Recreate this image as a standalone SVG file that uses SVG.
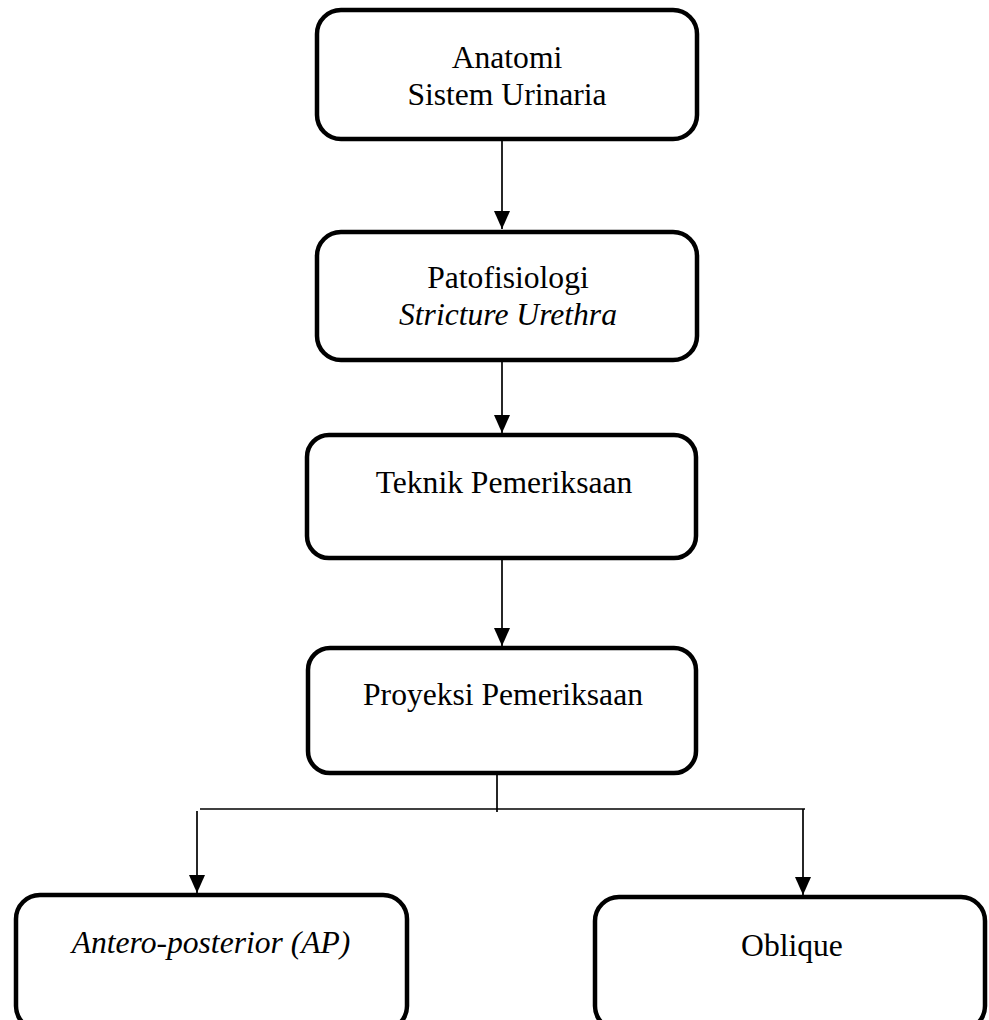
<svg xmlns="http://www.w3.org/2000/svg" width="989" height="1020" viewBox="0 0 989 1020">
<style>
.box{fill:#fff;stroke:#000;stroke-width:4.5}
.t{font-family:"Liberation Serif","Times New Roman",serif;font-size:31.6px;fill:#000;text-anchor:middle}
.i{font-style:italic}
.c{stroke:#000;stroke-width:1.7;fill:none}
</style>
<defs>
<marker id="ah" markerUnits="userSpaceOnUse" markerWidth="18" markerHeight="16" refX="18" refY="8" orient="auto" viewBox="0 0 18 16">
<path d="M0,0 L18,8 L0,16 Z" fill="#000"/>
</marker>
</defs>
<rect width="989" height="1020" fill="#fff"/>
<g id="connectors">
<line class="c" x1="502" y1="141" x2="502" y2="229" marker-end="url(#ah)"/>
<line class="c" x1="502" y1="362" x2="502" y2="433" marker-end="url(#ah)"/>
<line class="c" x1="502" y1="560" x2="502" y2="646" marker-end="url(#ah)"/>
<line class="c" x1="497" y1="771" x2="497" y2="812"/>
<line class="c" x1="200" y1="809" x2="805" y2="809"/>
<line class="c" x1="197" y1="811" x2="197" y2="893" marker-end="url(#ah)"/>
<line class="c" x1="803" y1="809" x2="803" y2="895" marker-end="url(#ah)"/>
</g>
<g id="n1">
<rect class="box" x="317" y="10" width="380" height="129" rx="24"/>
<text class="t" x="507" y="68">Anatomi</text>
<text class="t" x="507" y="105">Sistem Urinaria</text>
</g>
<g id="n2">
<rect class="box" x="317" y="232" width="380" height="128" rx="24"/>
<text class="t" x="508" y="288">Patofisiologi</text>
<text class="t i" x="508" y="325">Stricture Urethra</text>
</g>
<g id="n3">
<rect class="box" x="307" y="435" width="389" height="123" rx="22"/>
<text class="t" x="504" y="493">Teknik Pemeriksaan</text>
</g>
<g id="n4">
<rect class="box" x="308" y="648" width="388" height="125" rx="22"/>
<text class="t" x="503" y="705">Proyeksi Pemeriksaan</text>
</g>
<g id="n5">
<rect class="box" x="16" y="895" width="391" height="135" rx="24"/>
<text class="t i" x="211" y="953">Antero-posterior (AP)</text>
</g>
<g id="n6">
<rect class="box" x="595" y="897" width="390" height="133" rx="24"/>
<text class="t" x="792" y="956">Oblique</text>
</g>
</svg>
